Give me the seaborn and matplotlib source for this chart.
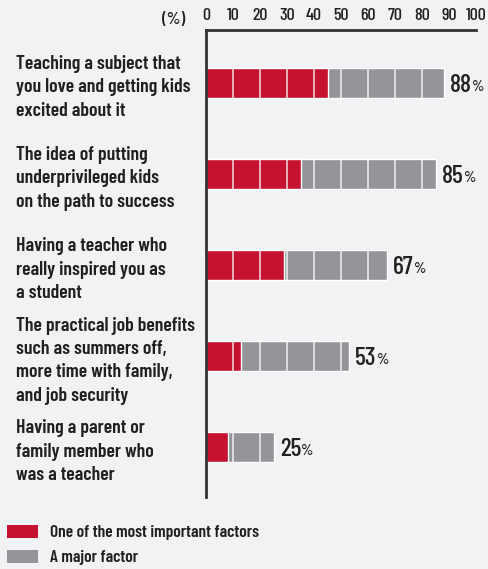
import matplotlib
matplotlib.use("Agg")
import matplotlib.pyplot as plt
from matplotlib.patches import Patch
import seaborn as sns
import pandas as pd

categories = [
    "Teaching a subject that\nyou love and getting kids\nexcited about it",
    "The idea of putting\nunderprivileged kids\non the path to success",
    "Having a teacher who\nreally inspired you as\na student",
    "The practical job benefits\nsuch as summers off,\nmore time with family,\nand job security",
    "Having a parent or\nfamily member who\nwas a teacher",
]
most_important = [45, 35, 29, 13, 8]
major_factor = [43, 50, 38, 40, 17]
totals = [88, 85, 67, 53, 25]
xticks = [0, 10, 20, 30, 40, 50, 60, 70, 80, 90, 100]
series_names = ["One of the most important factors", "A major factor"]

RED = "#c41230"
GRAY = "#939598"
BG = "#f1f2f4"
DARK = "#231f20"
FONT = ["Barlow Condensed", "DejaVu Sans"]

sns.set_theme(style="white")
plt.rcParams["font.family"] = FONT
plt.rcParams["font.weight"] = 500
plt.rcParams["text.color"] = DARK

df = pd.DataFrame({"cat": categories, "red": most_important, "total": totals})

fig = plt.figure(figsize=(4.88, 5.69), dpi=100, facecolor=BG)
ax = fig.add_axes([206 / 488, 1 - 497 / 569, 270 / 488, 467 / 569])
ax.set_facecolor(BG)

bw = 0.33
sns.barplot(data=df, x="total", y="cat", color=GRAY, width=bw, saturation=1, ax=ax, orient="h")
sns.barplot(data=df, x="red", y="cat", color=RED, width=bw, saturation=1, ax=ax, orient="h")

# white separators every 10 units inside bars
for i, t in enumerate(totals):
    for k in range(10, t, 10):
        ax.vlines(k, i - bw / 2, i + bw / 2, color="white", lw=1.1, alpha=0.85, zorder=5)
    txt = ax.text(t + 2.3, i + 0.03, f"{t}", va="center", ha="left", fontsize=18.5,
                  fontweight=500, color=DARK)
    ax.annotate("%", xy=(1, 0.14), xycoords=txt, xytext=(0.2, 0), textcoords="offset points",
                va="bottom", ha="left", fontsize=11.5, fontweight=500, color=DARK)

ax.set_xlim(0, 100)
ax.set_ylim(4.55, -0.58)
ax.set_xlabel("")
ax.set_ylabel("")
ax.xaxis.tick_top()
ax.set_xticks(xticks)
ax.set_xticklabels([str(v) for v in xticks])
ax.tick_params(axis="x", length=0, pad=5, labelsize=13, colors=DARK)
ax.tick_params(axis="y", length=0, pad=137, labelsize=14.2, colors=DARK)
for lab in ax.get_yticklabels():
    lab.set_horizontalalignment("left")
    lab.set_linespacing(1.38)
    lab.set_fontweight(600)

for s in ["right", "bottom"]:
    ax.spines[s].set_visible(False)
for s in ["top", "left"]:
    ax.spines[s].set_visible(True)
    ax.spines[s].set_color("#333333")
    ax.spines[s].set_linewidth(2)
ax.grid(False)

fig.text(174 / 488, 1 - 19 / 569, "(%)", ha="center", va="center", fontsize=13, color=DARK)

handles = [Patch(facecolor=RED, edgecolor="none"), Patch(facecolor=GRAY, edgecolor="none")]
leg = fig.legend(handles, series_names, loc="lower left", bbox_to_anchor=(-0.008, -0.012),
                 frameon=False, fontsize=12.5, handlelength=1.8, handleheight=0.8,
                 handletextpad=0.7, labelspacing=0.55, borderaxespad=0.2)
for t in leg.get_texts():
    t.set_fontweight(600)

fig.savefig("out.png", dpi=100, facecolor=BG)
